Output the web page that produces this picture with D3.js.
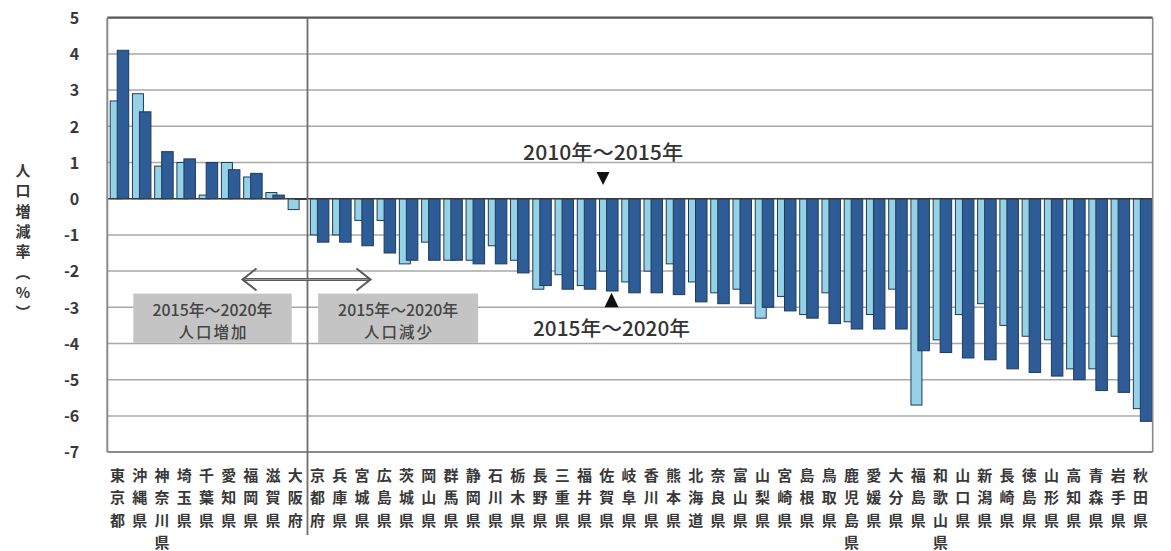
<!DOCTYPE html>
<html><head><meta charset="utf-8">
<script src="https://cdn.jsdelivr.net/npm/d3@7"></script>
<style>
html,body{margin:0;padding:0;background:#fff;}
svg{display:block;}
text{font-family:"Noto Sans CJK JP","Noto Sans",sans-serif;}
</style></head>
<body>
<svg id="chart" width="1171" height="551"></svg>
<script>
// ---- data ----
const prefectures = ["東京都","沖縄県","神奈川県","埼玉県","千葉県","愛知県","福岡県","滋賀県","大阪府",
  "京都府","兵庫県","宮城県","広島県","茨城県","岡山県","群馬県","静岡県","石川県","栃木県","長野県",
  "三重県","福井県","佐賀県","岐阜県","香川県","熊本県","北海道","奈良県","富山県","山梨県","宮崎県",
  "島根県","鳥取県","鹿児島県","愛媛県","大分県","福島県","和歌山県","山口県","新潟県","長崎県",
  "徳島県","山形県","高知県","青森県","岩手県","秋田県"];
const rate2010_2015 = [2.7,2.9,0.9,1.0,0.1,1.0,0.6,0.17,-0.3,
  -1.0,-1.0,-0.6,-0.6,-1.8,-1.2,-1.7,-1.7,-1.3,-1.7,-2.5,
  -2.1,-2.4,-2.0,-2.3,-2.0,-1.8,-2.3,-2.6,-2.5,-3.3,-2.7,
  -3.2,-2.6,-3.4,-3.2,-2.5,-5.7,-3.9,-3.2,-2.9,-3.5,
  -3.8,-3.9,-4.7,-4.7,-3.8,-5.8];
const rate2015_2020 = [4.1,2.4,1.3,1.1,1.0,0.8,0.7,0.1,-0.02,
  -1.2,-1.2,-1.3,-1.5,-1.7,-1.7,-1.7,-1.8,-1.8,-2.05,-2.4,
  -2.5,-2.5,-2.55,-2.6,-2.6,-2.65,-2.85,-2.9,-2.9,-3.0,-3.1,
  -3.3,-3.45,-3.6,-3.6,-3.6,-4.2,-4.25,-4.4,-4.45,-4.7,
  -4.8,-4.9,-5.0,-5.3,-5.35,-6.15];
const yTicks = [5,4,3,2,1,0,-1,-2,-3,-4,-5,-6,-7];
const yTitle = ["人","口","増","減","率","︵","%","︶"];
const labelLater = "2010年～2015年";
const labelRecent = "2015年～2020年";
const boxIncrease = ["2015年～2020年","人口増加"];
const boxDecrease = ["2015年～2020年","人口減少"];
const increaseCount = 9;

// ---- layout ----
const svg = d3.select("#chart");
const L = 107.3, R = 1152.7, T = 17.7, B = 452.1;
const x = d3.scaleBand().domain(prefectures).range([L, R]).padding(0);
const bw = x.bandwidth();
const y = d3.scaleLinear().domain([-7, 5]).range([B, T]);
const ix = i => L + i * bw;   // position in category units

const lightFill = "#96d2e6", darkFill = "#2d5c97", barStroke = "#1f3b5c";
const gridCol = "#a8a8a8", textCol = "#383838";

// gridlines
svg.append("g").selectAll("line").data(yTicks.filter(d => d !== 0 && d !== 5 && d !== -7))
  .join("line")
  .attr("x1", L).attr("x2", R)
  .attr("y1", d => y(d)).attr("y2", d => y(d))
  .attr("stroke", gridCol).attr("stroke-width", 1.5);

// y axis labels
const yAxis = d3.axisLeft(y).tickValues(yTicks).tickSize(0).tickPadding(28)
  .tickFormat(d => d);
const ga = svg.append("g").attr("transform", `translate(${L},0)`).call(yAxis);
ga.select(".domain").remove();
ga.selectAll("text").attr("font-family", '"Liberation Sans",Arial,sans-serif')
  .attr("font-size", 16).attr("font-weight", "bold").attr("fill", textCol)
  .attr("dy", "0.36em");

// annotation boxes (behind bars)
function box(i0, i1, v0, v1, lines) {
  const g = svg.append("g");
  g.append("rect").attr("x", ix(i0)).attr("y", y(v0))
    .attr("width", ix(i1) - ix(i0)).attr("height", y(v1) - y(v0))
    .attr("fill", "#c4c4c4");
  const cx = (ix(i0) + ix(i1)) / 2;
  g.append("text").attr("x", cx).attr("y", y(v0) + 22.2).attr("text-anchor", "middle")
    .attr("font-size", 15.5).attr("font-weight", 500).attr("fill", "#454545").attr("textLength", 120)
    .attr("lengthAdjust", "spacingAndGlyphs").text(lines[0]);
  g.append("text").attr("x", cx).attr("y", y(v0) + 44).attr("text-anchor", "middle")
    .attr("font-size", 15.5).attr("font-weight", 500).attr("fill", "#454545").attr("textLength", 68)
    .attr("lengthAdjust", "spacing").text(lines[1]);
}
box(1.17, 8.29, -2.62, -3.98, boxIncrease);
box(9.48, 16.67, -2.62, -3.98, boxDecrease);

// bars
const gb = svg.append("g");
prefectures.forEach((p, i) => {
  const v1 = rate2010_2015[i], v2 = rate2015_2020[i];
  gb.append("rect").attr("x", x(p) + bw * 0.13).attr("width", bw * 0.495)
    .attr("y", y(Math.max(0, v1))).attr("height", Math.abs(y(v1) - y(0)))
    .attr("fill", lightFill).attr("stroke", barStroke).attr("stroke-width", 1);
  gb.append("rect").attr("x", x(p) + bw * 0.445).attr("width", bw * 0.517)
    .attr("y", y(Math.max(0, v2))).attr("height", Math.max(0.5, Math.abs(y(v2) - y(0))))
    .attr("fill", darkFill).attr("stroke", barStroke).attr("stroke-width", 1);
});

// zero line
svg.append("line").attr("x1", L).attr("x2", R).attr("y1", y(0)).attr("y2", y(0))
  .attr("stroke", "#3a3a3a").attr("stroke-width", 1.5);

// frame
svg.append("line").attr("x1", L).attr("x2", R).attr("y1", T).attr("y2", T)
  .attr("stroke", "#555").attr("stroke-width", 2.2);
svg.append("line").attr("x1", L).attr("x2", R).attr("y1", B).attr("y2", B)
  .attr("stroke", "#8a8a8a").attr("stroke-width", 2);
svg.append("line").attr("x1", L).attr("x2", L).attr("y1", T).attr("y2", B)
  .attr("stroke", "#8a8a8a").attr("stroke-width", 2);
svg.append("line").attr("x1", R).attr("x2", R).attr("y1", T).attr("y2", B)
  .attr("stroke", "#8a8a8a").attr("stroke-width", 1.6);

// separator between increase / decrease
const sepX = ix(increaseCount);
svg.append("line").attr("x1", sepX).attr("x2", sepX).attr("y1", T).attr("y2", 535)
  .attr("stroke", "#6e6e6e").attr("stroke-width", 1.8);

// double arrow
const ay = y(-2.23), ax0 = sepX - 65, ax1 = sepX + 63;
const ag = svg.append("g").attr("fill", "none").attr("stroke", "#5a5a5a");
ag.append("line").attr("x1", ax0).attr("x2", ax1).attr("y1", ay).attr("y2", ay).attr("stroke-width", 3);
ag.append("line").attr("x1", ax0 + 2).attr("x2", ax1 - 2).attr("y1", ay).attr("y2", ay)
  .attr("stroke", "#9a9a9a").attr("stroke-width", 1);
ag.append("polyline").attr("points", `${ax0+14},${ay-11} ${ax0},${ay} ${ax0+14},${ay+11}`).attr("stroke-width", 2);
ag.append("polyline").attr("points", `${ax1-14},${ay-11} ${ax1},${ay} ${ax1-14},${ay+11}`).attr("stroke-width", 2);

// series annotations pointing at 佐賀県
const refP = "佐賀県";
const dx = x(refP) + bw * 0.29, ux = x(refP) + bw * 0.67;
svg.append("text").attr("x", dx).attr("y", y(1.08)).attr("text-anchor", "middle")
  .attr("font-size", 20).attr("font-weight", 500).attr("fill", "#333").attr("textLength", 160)
  .attr("lengthAdjust", "spacingAndGlyphs").text(labelLater);
svg.append("path").attr("d", `M${dx-6.5},${y(0.74)} L${dx+6.5},${y(0.74)} L${dx},${y(0.38)} Z`)
  .attr("fill", "#111");
svg.append("path").attr("d", `M${ux-7},${y(-3.0)} L${ux+7},${y(-3.0)} L${ux},${y(-2.6)} Z`)
  .attr("fill", "#111");
svg.append("text").attr("x", ux).attr("y", y(-3.78)).attr("text-anchor", "middle")
  .attr("font-size", 20).attr("font-weight", 500).attr("fill", "#333").attr("textLength", 157)
  .attr("lengthAdjust", "spacingAndGlyphs").text(labelRecent);

// category labels (vertical, one character per row)
const gl = svg.append("g").attr("font-size", 15).attr("font-weight", "bold").attr("fill", textCol)
  .attr("text-anchor", "middle");
prefectures.forEach(p => {
  Array.from(p).forEach((ch, k) => {
    gl.append("text").attr("x", x(p) + bw / 2 - 1).attr("y", 480.5 + k * 22.5).text(ch);
  });
});

// y axis title
const gt = svg.append("g").attr("font-size", 15).attr("font-weight", "bold").attr("fill", textCol)
  .attr("text-anchor", "middle");
yTitle.forEach((ch, k) => {
  gt.append("text").attr("x", 23).attr("y", 176 + k * 20.3).text(ch);
});
</script>
</body></html>
